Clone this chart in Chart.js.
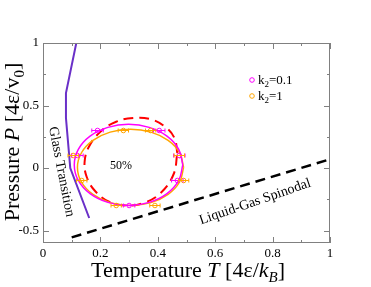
<!DOCTYPE html>
<html>
<head>
<meta charset="utf-8">
<script src="https://cdn.jsdelivr.net/npm/chart.js@4.4.0/dist/chart.umd.min.js"></script>
<style>
html, body { margin: 0; padding: 0; background: #fff; }
#grafico { display: block; }
</style>
</head>
<body>
<canvas id="grafico" width="371" height="287"></canvas>
<script>
// EJES
var ticksX = [0, 0.2, 0.4, 0.6, 0.8, 1];
var ticksY = [-0.5, 0, 0.5, 1];
var menoresX = [0.1, 0.3, 0.5, 0.7, 0.9];
var menoresY = [-0.75, -0.25, 0.25, 0.75];

// TRANSICION VITREA
var vidrioT = [0.116, 0.08, 0.08, 0.095, 0.161];
var vidrioP = [1, 0.6, 0.4, 0, -0.4];

// ESPINODAL LIQUIDO-GAS
var espinodalT = [0.1, 1];
var espinodalP = [-0.555, 0.07];

// CURVA ROJA (DISCONTINUA)
var rojaT = [0.468, 0.458, 0.425, 0.375, 0.315, 0.255, 0.20, 0.16, 0.145, 0.152, 0.18, 0.23, 0.29, 0.35, 0.41, 0.455, 0.468];
var rojaP = [0.12, 0.24, 0.33, 0.39, 0.40, 0.37, 0.29, 0.17, 0.05, -0.07, -0.18, -0.27, -0.30, -0.28, -0.20, -0.05, 0.12];

// CURVA k2=0.1
var curvaAT = [0.487, 0.473, 0.432, 0.370, 0.298, 0.226, 0.164, 0.123, 0.109, 0.123, 0.164, 0.226, 0.298, 0.370, 0.432, 0.473, 0.487];
var curvaAP = [0.025, 0.149, 0.255, 0.325, 0.35, 0.325, 0.255, 0.149, 0.025, -0.099, -0.205, -0.275, -0.30, -0.275, -0.205, -0.099, 0.025];

// CURVA k2=1
var curvaBT = [0.49, 0.476, 0.436, 0.376, 0.305, 0.234, 0.174, 0.134, 0.12, 0.134, 0.174, 0.234, 0.305, 0.376, 0.436, 0.476, 0.49];
var curvaBP = [0.005, 0.122, 0.221, 0.287, 0.31, 0.287, 0.221, 0.122, 0.005, -0.112, -0.211, -0.277, -0.30, -0.277, -0.211, -0.112, 0.005];

// PUNTOS k2=0.1
var puntosAT = [0.19, 0.405, 0.12, 0.475, 0.468, 0.30];
var puntosAP = [0.3, 0.3, 0.1, 0.1, -0.1, -0.3];
var errorAT = [0.02, 0.02, 0.02, 0.02, 0.02, 0.02];

// PUNTOS k2=1
var puntosBT = [0.28, 0.375, 0.105, 0.475, 0.135, 0.49, 0.255, 0.39];
var puntosBP = [0.3, 0.3, 0.1, 0.1, -0.1, -0.1, -0.3, -0.3];
var errorBT = [0.018, 0.018, 0.018, 0.018, 0.018, 0.018, 0.018, 0.018];

var fuente = '"Liberation Serif", "Times New Roman", serif';

function juntar(xs, ys) {
    var res = [];
    for (var i = 0; i < xs.length; i++) res.push({x: xs[i], y: ys[i]});
    return res;
}

// dibuja un texto con partes de distinta fuente
function textoPartes(ctx, partes, x, y) {
    var ancho = 0;
    for (var i = 0; i < partes.length; i++) {
        ctx.font = partes[i].f;
        ancho += ctx.measureText(partes[i].t).width;
    }
    var px = x - ancho / 2;
    for (var j = 0; j < partes.length; j++) {
        ctx.font = partes[j].f;
        ctx.fillText(partes[j].t, px, y + (partes[j].dy || 0));
        px += ctx.measureText(partes[j].t).width;
    }
}

var extras = {
    id: 'extras',
    afterDatasetsDraw: function (chart) {
        var ctx = chart.ctx;
        var sx = chart.scales.x, sy = chart.scales.y;
        // barras de error
        var grupos = [[0, errorAT, '#ff00ff'], [1, errorBT, '#ffa500']];
        ctx.save();
        ctx.lineWidth = 1;
        grupos.forEach(function (g) {
            var d = chart.data.datasets[g[0]].data;
            ctx.strokeStyle = g[2];
            for (var i = 0; i < d.length; i++) {
                var x1 = sx.getPixelForValue(d[i].x - g[1][i]);
                var x2 = sx.getPixelForValue(d[i].x + g[1][i]);
                var yy = sy.getPixelForValue(d[i].y);
                ctx.beginPath();
                ctx.moveTo(x1, yy); ctx.lineTo(x2, yy);
                ctx.moveTo(x1, yy - 2); ctx.lineTo(x1, yy + 2);
                ctx.moveTo(x2, yy - 2); ctx.lineTo(x2, yy + 2);
                ctx.stroke();
            }
        });
        ctx.restore();
    },
    afterDraw: function (chart) {
        var ctx = chart.ctx;
        var a = chart.chartArea;
        var sx = chart.scales.x, sy = chart.scales.y;
        ctx.save();
        // marco y marcas hacia dentro
        ctx.strokeStyle = '#808080';
        ctx.lineWidth = 1;
        ctx.strokeRect(a.left + 0.5, a.top + 0.5, a.right - a.left - 1, a.bottom - a.top - 1);
        ctx.beginPath();
        function marcaX(v, l) {
            var p = Math.round(sx.getPixelForValue(v)) + 0.5;
            ctx.moveTo(p, a.bottom); ctx.lineTo(p, a.bottom - l);
            ctx.moveTo(p, a.top); ctx.lineTo(p, a.top + l);
        }
        function marcaY(v, l) {
            var p = Math.round(sy.getPixelForValue(v)) + 0.5;
            ctx.moveTo(a.left, p); ctx.lineTo(a.left + l, p);
            ctx.moveTo(a.right, p); ctx.lineTo(a.right - l, p);
        }
        ticksX.forEach(function (v) { marcaX(v, 6); });
        menoresX.forEach(function (v) { marcaX(v, 3); });
        ticksY.forEach(function (v) { marcaY(v, 6); });
        menoresY.forEach(function (v) { if (v > -0.6) marcaY(v, 3); });
        ctx.stroke();

        ctx.fillStyle = '#000';
        ctx.textBaseline = 'alphabetic';
        // titulo eje x
        textoPartes(ctx, [
            {t: 'Temperature ', f: '22px ' + fuente},
            {t: 'T', f: 'italic 22px ' + fuente},
            {t: ' [4ε/', f: '22px ' + fuente},
            {t: 'k', f: 'italic 22px ' + fuente},
            {t: 'B', f: 'italic 15px ' + fuente, dy: 5},
            {t: ']', f: '22px ' + fuente}
        ], 188, 277);
        // titulo eje y
        ctx.save();
        ctx.translate(19, 142);
        ctx.rotate(-Math.PI / 2);
        textoPartes(ctx, [
            {t: 'Pressure ', f: '22px ' + fuente},
            {t: 'P', f: 'italic 22px ' + fuente},
            {t: ' [4ε/v', f: '22px ' + fuente},
            {t: '0', f: '15px ' + fuente, dy: 5},
            {t: ']', f: '22px ' + fuente}
        ], 0, 0);
        ctx.restore();

        // textos dentro
        ctx.textAlign = 'center';
        ctx.textBaseline = 'middle';
        ctx.save();
        ctx.translate(sx.getPixelForValue(0.064), sy.getPixelForValue(-0.03));
        ctx.rotate(79 * Math.PI / 180);
        ctx.font = '14px ' + fuente;
        ctx.fillText('Glass Transition', 0, 0);
        ctx.restore();

        ctx.save();
        ctx.translate(sx.getPixelForValue(0.739), sy.getPixelForValue(-0.271));
        ctx.rotate(-19 * Math.PI / 180);
        ctx.font = '14px ' + fuente;
        ctx.fillText('Liquid-Gas Spinodal', 0, 0);
        ctx.restore();

        ctx.font = '12px ' + fuente;
        ctx.fillText('50%', sx.getPixelForValue(0.272), sy.getPixelForValue(0.015));

        // leyenda
        ctx.textAlign = 'left';
        ctx.textBaseline = 'alphabetic';
        var ley = [['0.1', '#ff00ff', 80], ['1', '#ffa500', 96]];
        ley.forEach(function (l) {
            ctx.strokeStyle = l[1];
            ctx.beginPath();
            ctx.arc(252, l[2], 2.3, 0, Math.PI * 2);
            ctx.stroke();
            ctx.font = '13px ' + fuente;
            ctx.fillText('k', 258, l[2] + 4);
            var w = ctx.measureText('k').width;
            ctx.font = '9px ' + fuente;
            ctx.fillText('2', 258 + w, l[2] + 7);
            var w2 = ctx.measureText('2').width;
            ctx.font = '13px ' + fuente;
            ctx.fillText('=' + l[0], 258 + w + w2, l[2] + 4);
        });
        ctx.restore();
    }
};

var html = document.getElementById('grafico');

var grafico = new Chart(html, {
    type: 'scatter',
    data: {
        datasets: [
            {
                label: 'k2=0.1',
                data: juntar(puntosAT, puntosAP),
                showLine: false,
                pointRadius: 2.3,
                pointBorderWidth: 1,
                borderColor: '#ff00ff',
                backgroundColor: 'rgba(0,0,0,0)'
            },
            {
                label: 'k2=1',
                data: juntar(puntosBT, puntosBP),
                showLine: false,
                pointRadius: 2.3,
                pointBorderWidth: 1,
                borderColor: '#ffa500',
                backgroundColor: 'rgba(0,0,0,0)'
            },
            {
                data: juntar(curvaAT, curvaAP),
                showLine: true,
                pointRadius: 0,
                borderColor: '#ff00ff',
                borderWidth: 1.5,
                tension: 0.4
            },
            {
                data: juntar(curvaBT, curvaBP),
                showLine: true,
                pointRadius: 0,
                borderColor: '#ffa500',
                borderWidth: 1.5,
                tension: 0.4
            },
            {
                data: juntar(rojaT, rojaP),
                showLine: true,
                pointRadius: 0,
                borderColor: '#ff0000',
                borderWidth: 2,
                borderDash: [10, 6],
                tension: 0.4
            },
            {
                data: juntar(vidrioT, vidrioP),
                showLine: true,
                pointRadius: 0,
                borderColor: '#6a30c8',
                borderWidth: 2,
                tension: 0
            },
            {
                data: juntar(espinodalT, espinodalP),
                showLine: true,
                pointRadius: 0,
                borderColor: '#000000',
                borderWidth: 2.5,
                borderDash: [10, 6],
                tension: 0
            }
        ]
    },
    options: {
        responsive: false,
        animation: false,
        devicePixelRatio: 1,
        layout: {
            padding: {left: 0, right: 41, top: 43, bottom: 0}
        },
        plugins: {
            legend: {display: false},
            tooltip: {enabled: false}
        },
        scales: {
            x: {
                type: 'linear',
                min: 0,
                max: 1,
                grid: {display: false, drawTicks: false},
                border: {display: false},
                afterBuildTicks: function (s) { s.ticks = ticksX.map(function (v) { return {value: v}; }); },
                afterFit: function (s) { s.height = 44; },
                ticks: {
                    padding: 3,
                    color: '#000',
                    maxRotation: 0,
                    font: {family: fuente, size: 13},
                    callback: function (v) { return String(v); }
                }
            },
            y: {
                type: 'linear',
                min: -0.6,
                max: 1,
                grid: {display: false, drawTicks: false},
                border: {display: false},
                afterBuildTicks: function (s) { s.ticks = ticksY.map(function (v) { return {value: v}; }); },
                afterFit: function (s) { s.width = 43; },
                ticks: {
                    padding: 4,
                    color: '#000',
                    font: {family: fuente, size: 13},
                    callback: function (v) { return String(v); }
                }
            }
        }
    },
    plugins: [extras]
});
</script>
</body>
</html>
